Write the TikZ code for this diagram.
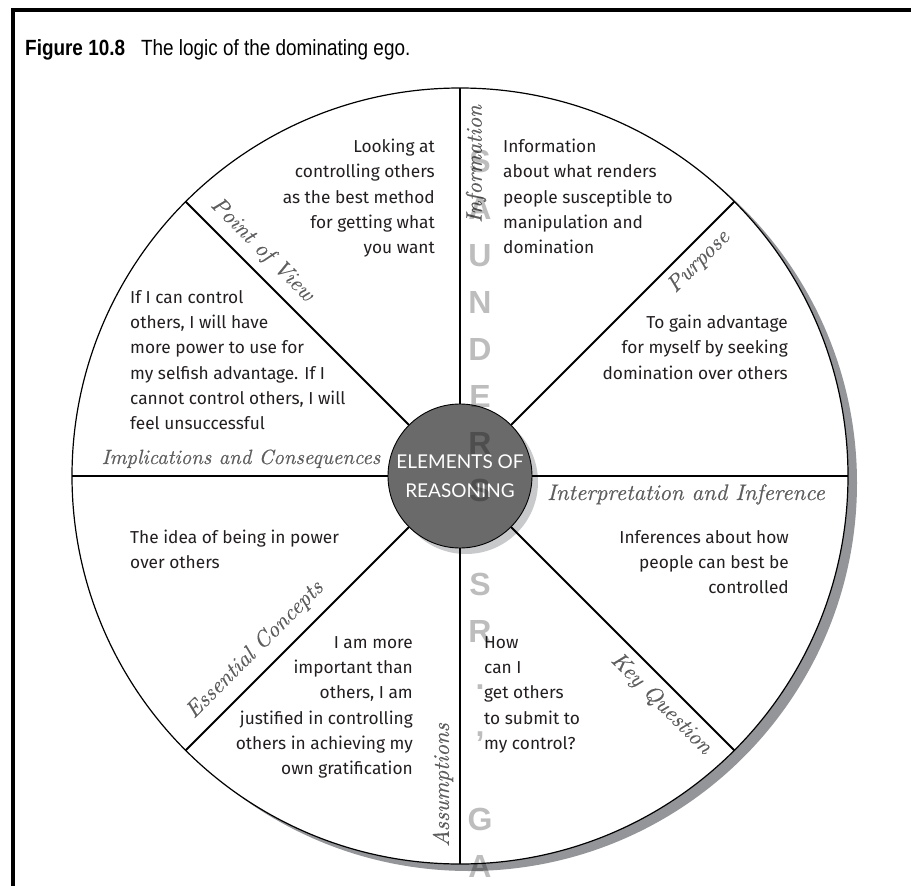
\documentclass[tikz,border=0pt]{standalone}
\usepackage{fontspec}
\newfontfamily\bodyfont{Fira Sans}
\newfontfamily\corefont{Lato}
\newfontfamily\titlefont{Liberation Sans}[FakeStretch=0.86]
\newfontfamily\markfont{Liberation Sans}
\newfontfamily\lblfont{lmroman10-italic.otf}[FakeBold=0.35]
\definecolor{ink}{HTML}{231F20}
\definecolor{labelgray}{HTML}{5E5E60}
\definecolor{rimshadow}{HTML}{939598}
\definecolor{coregray}{HTML}{6A6A6A}
\definecolor{coreshadow}{HTML}{C8C9CB}
\newcommand\firstline{\rule{0pt}{13pt}}
\tikzset{
  body/.style={font=\bodyfont\fontsize{17.3}{25.3}\selectfont, text=ink, inner sep=0pt},
  lbl/.style={font=\lblfont\fontsize{22.5}{24}\selectfont, text=labelgray, inner sep=0pt},
  spoke/.style={line width=1.9pt, black},
  core/.style={circle, draw=black, line width=0.9pt, fill=coregray, minimum size=144pt,
    inner sep=0pt, text=white, align=center, font=\corefont\fontsize{19}{29}\selectfont},
  wmark/.style={font=\markfont\bfseries\fontsize{32}{32}\selectfont, text=black, text opacity=0.26, inner sep=0pt},
  figtitle/.style={font=\titlefont\fontsize{22}{24}\selectfont, inner sep=0pt}
}
\begin{document}
\begin{tikzpicture}[x=1pt,y=-1pt]
\useasboundingbox (0,0) rectangle (911,886);
\fill[white] (0,0) rectangle (911,886);
% frame
\draw[line width=4pt] (13,892) -- (13,10) -- (917,10);
\node[figtitle, anchor=base west] (title) at (25,55) {\textbf{Figure 10.8}\hspace{16pt}The logic of the dominating ego.};
% wheel
\coordinate (c) at (460,476);
\fill[rimshadow] (469,483) circle[radius=388pt];
\draw[fill=white, line width=1.2pt] (c) circle[radius=388pt];
\coordinate (rim0) at (848,476);
\coordinate (rim1) at (734.4,201.6);
\coordinate (rim2) at (460,88);
\coordinate (rim3) at (185.6,201.6);
\coordinate (rim4) at (72,476);
\coordinate (rim5) at (185.6,750.4);
\coordinate (rim6) at (460,864);
\coordinate (rim7) at (734.4,750.4);
\fill[coreshadow] (466,482) circle[radius=72pt];
\node[core] (core) at (c) {ELEMENTS OF\\REASONING};
\foreach \k in {0,...,7} \draw[spoke] (core) -- (rim\k);
% sector titles
\node[lbl, rotate=90] (l-info) at (476,164) {Information};
\node[lbl, rotate=45] (l-purp) at (699,262) {Purpose};
\node[lbl, anchor=base] (l-inter) at (686,500) {Interpretation and Inference};
\node[lbl, rotate=-45] (l-kq) at (661,704) {Key Question};
\node[lbl, rotate=90] (l-assum) at (443,785) {Assumptions};
\node[lbl, rotate=45] (l-conc) at (255,650) {Essential Concepts};
\node[lbl, anchor=base, font=\lblfont\fontsize{20.6}{22}\selectfont] (l-impl) at (241,464) {Implications and Consequences};
\node[lbl, rotate=-45] (l-pov) at (262,250) {Point of View};
% sector contents
\node[body, anchor=north east, align=right] (t-pov) at (435,139)
  {\firstline Looking at\\controlling others\\as the best method\\for getting what\\you want};
\node[body, anchor=north west, align=left] (t-info) at (503,139)
  {\firstline Information\\about what renders\\people susceptible to\\manipulation and\\domination};
\node[body, anchor=north east, align=right] (t-purp) at (788,315)
  {\firstline To gain advantage\\for myself by seeking\\domination over others};
\node[body, anchor=north east, align=right] (t-inter) at (789,530)
  {\firstline Inferences about how\\people can best be\\controlled};
\node[body, anchor=north west, align=left] (t-kq) at (484,635)
  {\firstline How\\can I\\get others\\to submit to\\my control?};
\node[body, anchor=north east, align=right] (t-assum) at (413,635)
  {\firstline I am more\\important than\\others, I am\\justified in controlling\\others in achieving my\\own gratification};
\node[body, anchor=north west, align=left] (t-conc) at (130,530)
  {\firstline The idea of being in power\\over others};
\node[body, anchor=north west, align=left] (t-impl) at (130,290)
  {\firstline If I can control\\others, I will have\\more power to use for\\my selfish advantage. If I\\cannot control others, I will\\feel unsuccessful};
% vertical watermark
\foreach \ch/\yb in {S/172, A/219, U/266, N/313, D/360, E/407, R/454, S/501,
                     S/595, R/642, ./689, {,}/736, G/830, A/877}
  \node[wmark, anchor=base, name=wm-\yb] at (480,\yb) {\ch};
\end{tikzpicture}
\end{document}
